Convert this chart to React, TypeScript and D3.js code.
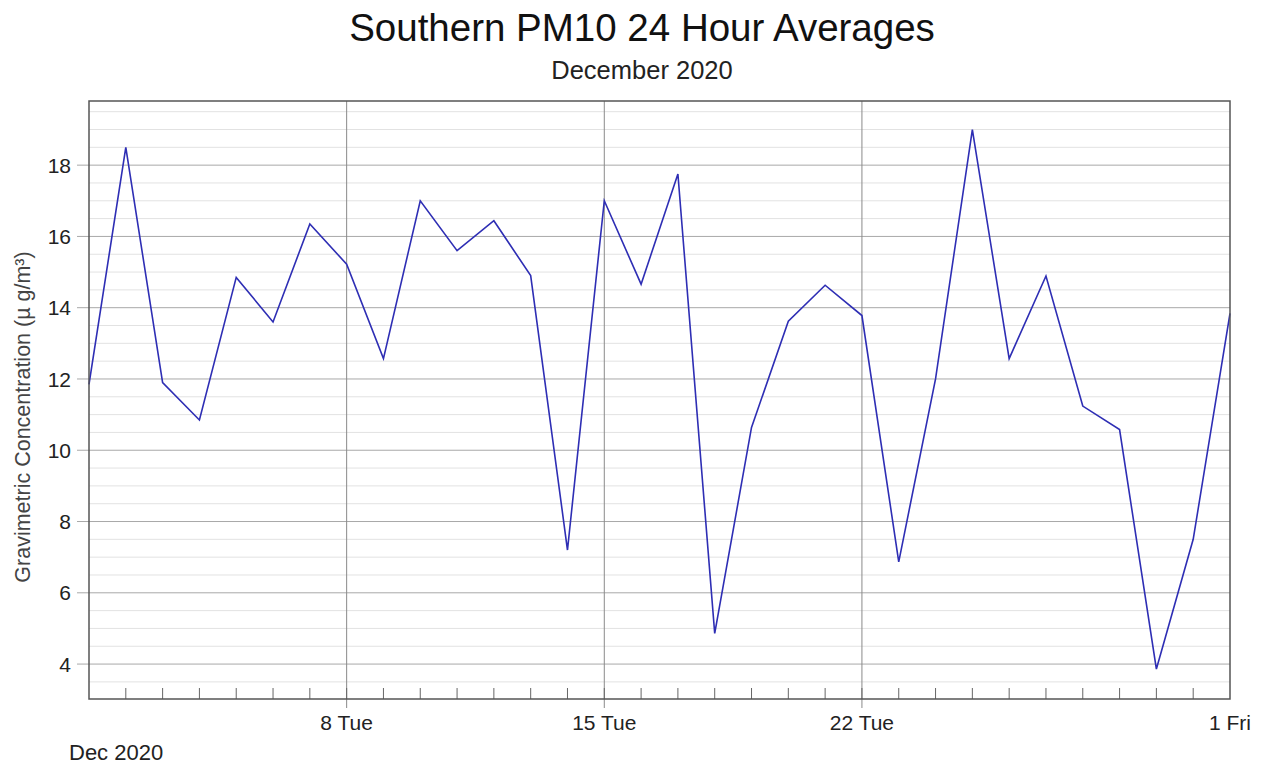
import React, { useEffect, useRef } from "react";
import * as d3 from "d3";

// daily PM10 averages, Dec 2020
const dates = [
  "2020-12-01", "2020-12-02", "2020-12-03", "2020-12-04", "2020-12-05",
  "2020-12-06", "2020-12-07", "2020-12-08", "2020-12-09", "2020-12-10",
  "2020-12-11", "2020-12-12", "2020-12-13", "2020-12-14", "2020-12-15",
  "2020-12-16", "2020-12-17", "2020-12-18", "2020-12-19", "2020-12-20",
  "2020-12-21", "2020-12-22", "2020-12-23", "2020-12-24", "2020-12-25",
  "2020-12-26", "2020-12-27", "2020-12-28", "2020-12-29", "2020-12-30",
  "2020-12-31", "2021-01-01",
];
const values = [
  11.85, 18.5, 11.9, 10.85, 14.85, 13.6, 16.35, 15.22, 12.57, 17.0,
  15.6, 16.44, 14.9, 7.2, 17.0, 14.66, 17.75, 4.86, 10.64, 13.62,
  14.63, 13.78, 6.87, 12.0, 19.0, 12.57, 14.89, 11.24, 10.58, 3.86,
  7.5, 13.84,
];
const majorTicks = ["2020-12-08", "2020-12-15", "2020-12-22", "2021-01-01"];
const majorLabels = ["8 Tue", "15 Tue", "22 Tue", "1 Fri"];
const yTicks = [4, 6, 8, 10, 12, 14, 16, 18];

const title = "Southern PM10 24 Hour Averages";
const subtitle = "December 2020";
const yLabel = "Gravimetric Concentration (\u00b5 g/m\u00b3)";
const monthLabel = "Dec 2020";

const W = 1263;
const H = 766;
const margin = { top: 101, right: 33, bottom: 67, left: 89 };

export default function App() {
  const ref = useRef<SVGSVGElement>(null);

  useEffect(() => {
    const svg = d3.select(ref.current);
    svg.selectAll("*").remove();

    const font = "'Liberation Sans', Arial, sans-serif";
    const parse = (s: string) => new Date(s + "T00:00:00Z");
    const data = dates.map((d, i) => ({ date: parse(d), value: values[i] }));

    const x = d3
      .scaleUtc()
      .domain([parse(dates[0]), parse(dates[dates.length - 1])])
      .range([margin.left, W - margin.right]);
    const y = d3
      .scaleLinear()
      .domain([3.02, 19.8])
      .range([H - margin.bottom, margin.top]);

    const x0 = margin.left;
    const x1 = W - margin.right;
    const y0 = H - margin.bottom;
    const y1 = margin.top;

    svg
      .append("rect")
      .attr("width", W)
      .attr("height", H)
      .attr("fill", "white");

    // minor horizontal grid
    const minor = d3.range(3.5, 19.8, 0.5).filter((v) => v % 2 !== 0);
    svg
      .append("g")
      .selectAll("line")
      .data(minor)
      .enter()
      .append("line")
      .attr("x1", x0)
      .attr("x2", x1)
      .attr("y1", (d) => y(d))
      .attr("y2", (d) => y(d))
      .attr("stroke", "#e2e2e2")
      .attr("stroke-width", 1);

    // major horizontal grid
    svg
      .append("g")
      .selectAll("line")
      .data(yTicks)
      .enter()
      .append("line")
      .attr("x1", x0 - 12)
      .attr("x2", x1)
      .attr("y1", (d) => y(d))
      .attr("y2", (d) => y(d))
      .attr("stroke", "#a8a8a8")
      .attr("stroke-width", 1);

    // vertical weekly grid + ticks below axis
    svg
      .append("g")
      .selectAll("line")
      .data(majorTicks.slice(0, 3))
      .enter()
      .append("line")
      .attr("x1", (d) => x(parse(d)))
      .attr("x2", (d) => x(parse(d)))
      .attr("y1", y1)
      .attr("y2", y0 + 9)
      .attr("stroke", "#8a8a8a")
      .attr("stroke-width", 1);

    // daily minor ticks inside plot
    svg
      .append("g")
      .selectAll("line")
      .data(dates.slice(1, -1))
      .enter()
      .append("line")
      .attr("x1", (d) => x(parse(d)))
      .attr("x2", (d) => x(parse(d)))
      .attr("y1", y0 - 11)
      .attr("y2", y0)
      .attr("stroke", "#666")
      .attr("stroke-width", 1);

    // the series
    const line = d3
      .line<{ date: Date; value: number }>()
      .x((d) => x(d.date))
      .y((d) => y(d.value));
    svg
      .append("path")
      .datum(data)
      .attr("fill", "none")
      .attr("stroke", "#2e2eb4")
      .attr("stroke-width", 1.6)
      .attr("stroke-linejoin", "miter")
      .attr("d", line);

    // frame
    svg
      .append("rect")
      .attr("x", x0)
      .attr("y", y1)
      .attr("width", x1 - x0)
      .attr("height", y0 - y1)
      .attr("fill", "none")
      .attr("stroke", "#555")
      .attr("stroke-width", 1.5);

    // y tick labels
    svg
      .append("g")
      .selectAll("text")
      .data(yTicks)
      .enter()
      .append("text")
      .attr("x", x0 - 18)
      .attr("y", (d) => y(d))
      .attr("dy", "0.36em")
      .attr("text-anchor", "end")
      .style("font-family", font)
      .style("font-size", "21px")
      .attr("fill", "#222")
      .text((d) => d);

    // x tick labels
    svg
      .append("g")
      .selectAll("text")
      .data(majorTicks)
      .enter()
      .append("text")
      .attr("x", (d) => x(parse(d)))
      .attr("y", y0 + 31)
      .attr("text-anchor", "middle")
      .style("font-family", font)
      .style("font-size", "21px")
      .attr("fill", "#222")
      .text((d, i) => majorLabels[i]);

    svg
      .append("text")
      .attr("x", 69)
      .attr("y", y0 + 61)
      .style("font-family", font)
      .style("font-size", "22px")
      .attr("fill", "#222")
      .text(monthLabel);

    // y axis title
    svg
      .append("text")
      .attr("transform", "translate(30,417) rotate(-90)")
      .attr("text-anchor", "middle")
      .style("font-family", font)
      .style("font-size", "21.5px")
      .attr("fill", "#444")
      .text(yLabel);

    // titles
    svg
      .append("text")
      .attr("x", 642)
      .attr("y", 41)
      .attr("text-anchor", "middle")
      .style("font-family", font)
      .style("font-size", "38.5px")
      .attr("fill", "#111")
      .text(title);

    svg
      .append("text")
      .attr("x", 642)
      .attr("y", 79)
      .attr("text-anchor", "middle")
      .style("font-family", font)
      .style("font-size", "25.5px")
      .attr("fill", "#222")
      .text(subtitle);
  }, []);

  return (
    <svg
      ref={ref}
      width={W}
      height={H}
      style={{ position: "absolute", left: 0, top: 0 }}
    />
  );
}
